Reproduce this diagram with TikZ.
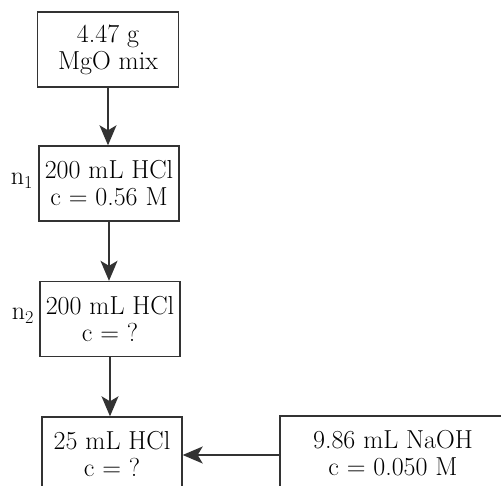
\documentclass[tikz,border=0pt]{standalone}
\usepackage{fontspec}
\usepackage{tikz}
\usetikzlibrary{arrows.meta,positioning}

\tikzset{
  box/.style={draw=black!80,line width=1.4pt,minimum width=140pt,minimum height=75pt,
    align=center,inner sep=0pt,font=\fontsize{26pt}{27pt}\selectfont},
  lbl/.style={font=\fontsize{26pt}{27pt}\selectfont,inner sep=0pt},
  flow/.style={-{Stealth[length=20pt,width=17pt,inset=5pt]},draw=black!80,fill=black!80,line width=1.4pt}
}

\begin{document}
\begin{tikzpicture}[x=1pt,y=-1pt]
\useasboundingbox (0,0) rectangle (501,486);
\node[box,minimum width=141pt] (mix) at (108,49.5) {4.47 g\\MgO mix};
\node[box] (hcla) at (109,183.5) {200 mL HCl\\c = 0.56 M};
\node[box] (hclb) at (110,319) {200 mL HCl\\c = ?};
\node[box] (hclc) at (112,454.5) {25 mL HCl\\c = ?};
\node[box,minimum width=226pt] (naoh) at (393,453.5) {9.86 mL NaOH\\c = 0.050 M};
\node[lbl,left=5pt of hcla,yshift=3pt] (na) {n$_{\mathrm{1}}$};
\node[lbl,left=5pt of hclb,yshift=3pt] (nb) {n$_{\mathrm{2}}$};
\draw[flow] (mix.south) -- (mix.south |- hcla.north);
\draw[flow] (hcla.south) -- (hcla.south |- hclb.north);
\draw[flow] (hclb.south) -- (hclb.south |- hclc.north);
\draw[flow] (naoh.west |- 0,455) -- (hclc.east |- 0,455);
\end{tikzpicture}
\end{document}
